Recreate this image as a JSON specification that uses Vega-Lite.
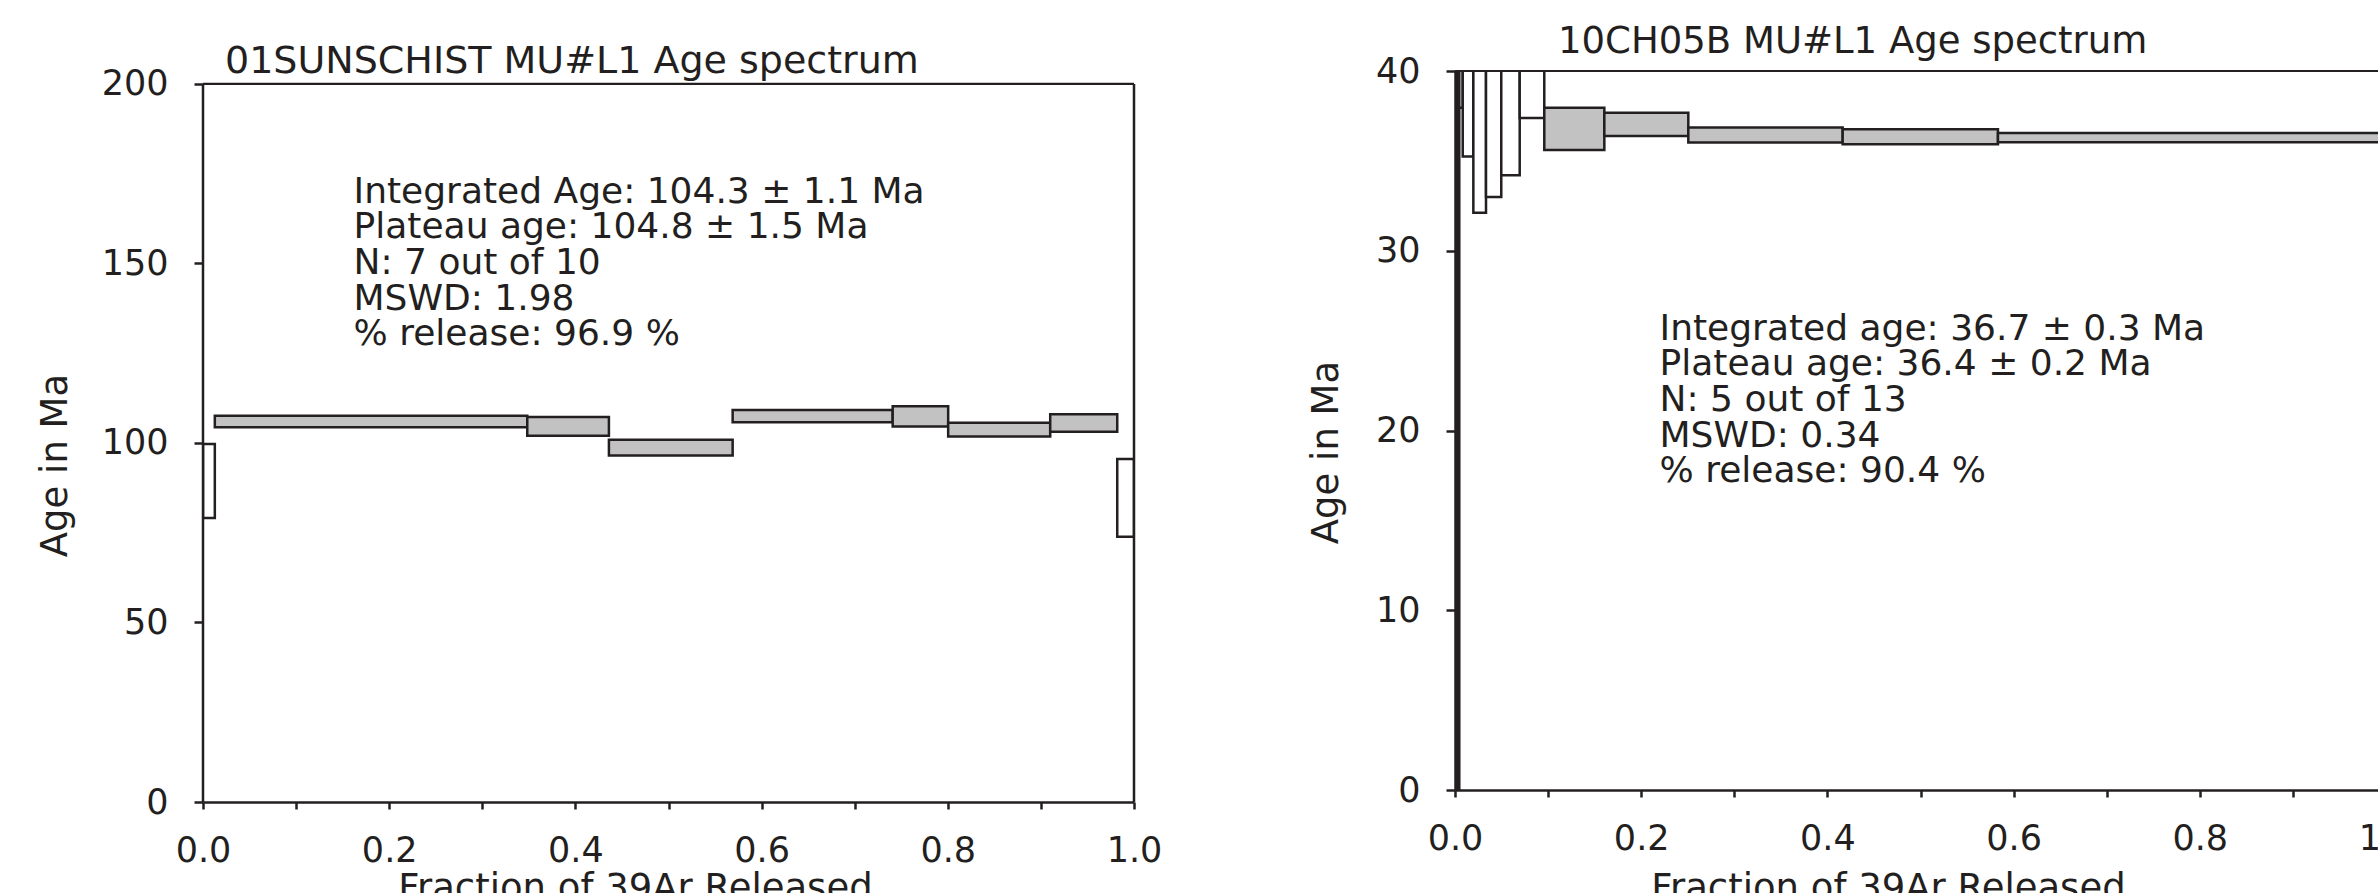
{
  "$schema": "https://vega.github.io/schema/vega-lite/v6.json",
  "background": "white",
  "padding": {"left": 36, "top": 23, "right": 0, "bottom": 0},
  "bounds": "flush",
  "spacing": 321,
  "config": {
    "font": "DejaVu Sans",
    "view": {"stroke": null},
    "axis": {
      "grid": false,
      "domainColor": "#231f20",
      "domainWidth": 2.5,
      "tickColor": "#231f20",
      "tickWidth": 2.5,
      "labelColor": "#231f20",
      "labelFontSize": 35,
      "labelFont": "DejaVu Sans",
      "titleFont": "DejaVu Sans",
      "titleFontSize": 37,
      "titleFontWeight": "normal",
      "titleColor": "#231f20",
      "labelOverlap": false,
      "labelFlush": false,
      "zindex": 1
    },
    "axisX": {"tickSize": 7, "labelPadding": 24, "labelDx": -10},
    "axisY": {"tickSize": 9, "labelPadding": 26},
    "title": {"font": "DejaVu Sans", "fontWeight": "normal", "color": "#231f20", "anchor": "start", "baseline": "alphabetic", "frame": "group"}
  },
  "hconcat": [
    {
      "width": 931,
      "height": 731,
      "title": {"text": "01SUNSCHIST MU#L1 Age spectrum", "fontSize": 38, "dx": 22, "offset": -14},
      "layer": [
        {
          "data": {"values": [
            {"frac": 0.0, "frac2": 0.0127, "age": 79.1, "age2": 99.7, "type": "other"},
            {"frac": 0.0127, "frac2": 0.3483, "age": 104.4, "age2": 107.6, "type": "plateau"},
            {"frac": 0.3483, "frac2": 0.436, "age": 102.0, "age2": 107.2, "type": "plateau"},
            {"frac": 0.436, "frac2": 0.5689, "age": 96.5, "age2": 100.9, "type": "plateau"},
            {"frac": 0.5689, "frac2": 0.7408, "age": 105.8, "age2": 109.2, "type": "plateau"},
            {"frac": 0.7408, "frac2": 0.8004, "age": 104.6, "age2": 110.2, "type": "plateau"},
            {"frac": 0.8004, "frac2": 0.91, "age": 101.8, "age2": 105.6, "type": "plateau"},
            {"frac": 0.91, "frac2": 0.982, "age": 103.1, "age2": 108.0, "type": "plateau"},
            {"frac": 0.982, "frac2": 1.0, "age": 73.9, "age2": 95.5, "type": "other"}
          ]},
          "mark": {"type": "rect", "stroke": "#231f20", "strokeWidth": 2.5, "clip": true},
          "encoding": {
            "x": {
              "field": "frac", "type": "quantitative",
              "scale": {"domain": [0, 1], "nice": false, "zero": false},
              "axis": {
                "title": "Fraction of 39Ar Released",
                "values": [0, 0.1, 0.2, 0.3, 0.4, 0.5, 0.6, 0.7, 0.8, 0.9, 1.0],
                "format": ".1f",
                "labelExpr": "round(datum.value * 10) % 2 == 0 ? datum.label : ''",
                "titleX": 432, "titleY": 97, "titleBaseline": "alphabetic", "titleAlign": "center"
              }
            },
            "x2": {"field": "frac2"},
            "y": {
              "field": "age", "type": "quantitative",
              "scale": {"domain": [0, 203.6], "nice": false, "zero": false},
              "axis": {
                "title": "Age in Ma",
                "values": [0, 50, 100, 150, 200],
                "domain": false,
                "titleX": -137, "titleY": 394, "titleBaseline": "alphabetic", "titleAlign": "center", "titleAngle": 270
              }
            },
            "y2": {"field": "age2"},
            "color": {"field": "type", "type": "nominal", "scale": {"domain": ["plateau", "other", "merged"], "range": ["#c2c2c2", "#ffffff", "#231f20"]}, "legend": null}
          }
        },
        {
          "data": {"values": [{}]},
          "mark": {"type": "rule", "color": "#231f20", "strokeWidth": 2.5},
          "encoding": {"x": {"datum": 0}, "y": {"datum": 0}, "y2": {"datum": 200}}
        },
        {
          "data": {"values": [{}]},
          "mark": {"type": "rule", "color": "#231f20", "strokeWidth": 2.5},
          "encoding": {"x": {"datum": 1}, "y": {"datum": 0}, "y2": {"datum": 200}}
        },
        {
          "data": {"values": [{}]},
          "mark": {"type": "rule", "color": "#231f20", "strokeWidth": 2.2},
          "encoding": {"x": {"datum": 0}, "x2": {"datum": 1}, "y": {"datum": 200}}
        },
        {
          "data": {"values": [
            {"frac": 0.1617, "age": 166.9, "lines": ["Integrated Age: 104.3 ± 1.1 Ma", "Plateau age: 104.8 ± 1.5 Ma", "N: 7 out of 10", "MSWD: 1.98", "% release: 96.9 %"]}
          ]},
          "mark": {"type": "text", "align": "left", "baseline": "alphabetic", "fontSize": 36, "lineHeight": 35.6, "color": "#231f20"},
          "encoding": {
            "x": {"field": "frac", "type": "quantitative"},
            "y": {"field": "age", "type": "quantitative"},
            "text": {"field": "lines"}
          }
        }
      ]
    },
    {
      "width": 931,
      "height": 719,
      "title": {"text": "10CH05B MU#L1 Age spectrum", "fontSize": 37, "dx": 103, "offset": -7},
      "layer": [
        {
          "data": {"values": [
            {"frac": 0.0, "frac2": 0.0046, "age": -20, "age2": 60, "type": "merged"},
            {"frac": 0.0046, "frac2": 0.0083, "age": 37.96, "age2": 45, "type": "other"},
            {"frac": 0.0083, "frac2": 0.0197, "age": 35.24, "age2": 45, "type": "other"},
            {"frac": 0.0197, "frac2": 0.0333, "age": 32.12, "age2": 45, "type": "other"},
            {"frac": 0.0333, "frac2": 0.0497, "age": 32.99, "age2": 45, "type": "other"},
            {"frac": 0.0497, "frac2": 0.0695, "age": 34.2, "age2": 45, "type": "other"},
            {"frac": 0.0695, "frac2": 0.0959, "age": 37.39, "age2": 43, "type": "other"},
            {"frac": 0.0959, "frac2": 0.1604, "age": 35.6, "age2": 37.96, "type": "plateau"},
            {"frac": 0.1604, "frac2": 0.2506, "age": 36.38, "age2": 37.68, "type": "plateau"},
            {"frac": 0.2506, "frac2": 0.4164, "age": 36.02, "age2": 36.85, "type": "plateau"},
            {"frac": 0.4164, "frac2": 0.5832, "age": 35.93, "age2": 36.76, "type": "plateau"},
            {"frac": 0.5832, "frac2": 1.0, "age": 36.04, "age2": 36.55, "type": "plateau"}
          ]},
          "mark": {"type": "rect", "stroke": "#231f20", "strokeWidth": 2.5, "clip": true},
          "encoding": {
            "x": {
              "field": "frac", "type": "quantitative",
              "scale": {"domain": [0, 1], "nice": false, "zero": false},
              "axis": {
                "title": "Fraction of 39Ar Released",
                "values": [0, 0.1, 0.2, 0.3, 0.4, 0.5, 0.6, 0.7, 0.8, 0.9, 1.0],
                "format": ".1f",
                "labelExpr": "round(datum.value * 10) % 2 == 0 ? datum.label : ''",
                "titleX": 433, "titleY": 109, "titleBaseline": "alphabetic", "titleAlign": "center"
              }
            },
            "x2": {"field": "frac2"},
            "y": {
              "field": "age", "type": "quantitative",
              "scale": {"domain": [0, 40], "nice": false, "zero": false},
              "axis": {
                "title": "Age in Ma",
                "values": [0, 10, 20, 30, 40],
                "titleX": -118, "titleY": 381, "titleBaseline": "alphabetic", "titleAlign": "center", "titleAngle": 270
              }
            },
            "y2": {"field": "age2"},
            "color": {"field": "type", "type": "nominal", "scale": {"domain": ["plateau", "other", "merged"], "range": ["#c2c2c2", "#ffffff", "#231f20"]}, "legend": null}
          }
        },
        {
          "data": {"values": [{}]},
          "mark": {"type": "rule", "color": "#231f20", "strokeWidth": 2.2},
          "encoding": {"x": {"datum": 0}, "x2": {"datum": 1}, "y": {"datum": 40}}
        },
        {
          "data": {"values": [{}]},
          "mark": {"type": "rule", "color": "#231f20", "strokeWidth": 2.5},
          "encoding": {"x": {"datum": 1}, "y": {"datum": 0}, "y2": {"datum": 40}}
        },
        {
          "data": {"values": [
            {"frac": 0.2197, "age": 25.05, "lines": ["Integrated age: 36.7 ± 0.3 Ma", "Plateau age: 36.4 ± 0.2 Ma", "N: 5 out of 13", "MSWD: 0.34", "% release: 90.4 %"]}
          ]},
          "mark": {"type": "text", "align": "left", "baseline": "alphabetic", "fontSize": 36, "lineHeight": 35.6, "color": "#231f20"},
          "encoding": {
            "x": {"field": "frac", "type": "quantitative"},
            "y": {"field": "age", "type": "quantitative"},
            "text": {"field": "lines"}
          }
        }
      ]
    }
  ]
}
